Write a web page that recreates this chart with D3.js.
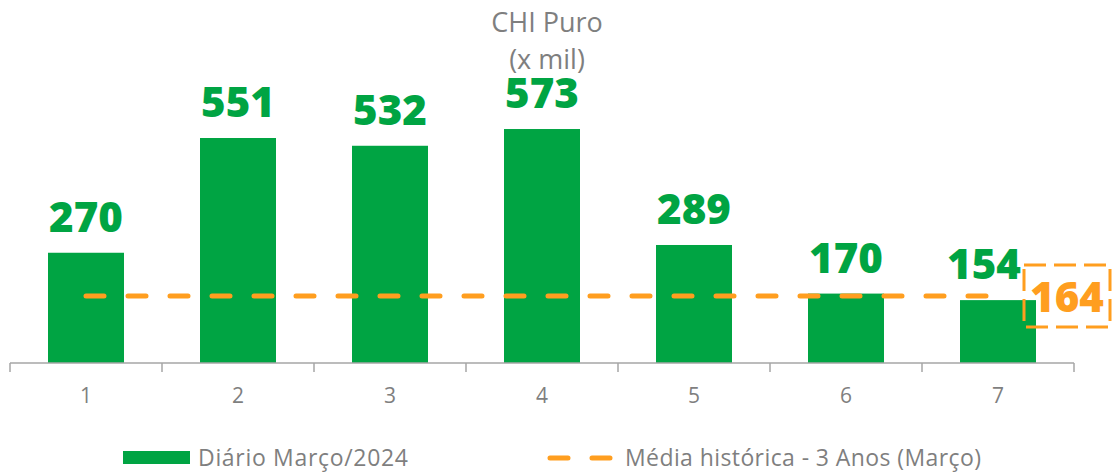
<!DOCTYPE html>
<html><head><meta charset="utf-8">
<script src="https://cdn.jsdelivr.net/npm/d3@7"></script>
<style>body{margin:0;background:#fff;}svg{display:block;font-family:"Open Sans",sans-serif;}</style>
</head><body><svg id="c" width="1113" height="473"></svg>
<script>
const categories = ["1","2","3","4","5","6","7"];
const values = [270,551,532,573,289,170,154];
const historicalAvg = 164;
const seriesNames = ["Diário Março/2024","Média histórica - 3 Anos (Março)"];
const title = ["CHI Puro","(x mil)"];

const green = "#00A443", orange = "#FF9E1F", gray = "#7f7f7f";
const svg = d3.select("#c");
const x = d3.scaleBand().domain(categories).range([10,1074]).paddingInner(0).paddingOuter(0);
const y = d3.scaleLinear().domain([0,600]).range([363,118]);

svg.append("g").selectAll("text").data(title).join("text")
  .attr("x",547).attr("y",(d,i)=>32+i*37).attr("text-anchor","middle")
  .attr("font-size",27).attr("fill",gray).text(d=>d);

const bw = x.bandwidth()*0.5;
svg.append("g").selectAll("rect").data(values).join("rect")
  .attr("x",(d,i)=>x(categories[i])+(x.bandwidth()-bw)/2)
  .attr("width",bw).attr("y",d=>y(d)).attr("height",d=>y(0)-y(d))
  .attr("fill",green);

svg.append("g").selectAll("text").data(values).join("text")
  .attr("x",(d,i)=>x(categories[i])+x.bandwidth()/2 - (i===values.length-1?14:0))
  .attr("y",d=>y(d)-21).attr("text-anchor","middle")
  .attr("font-size",42).attr("font-weight",800).attr("fill",green).text(d=>d);

// axis
const ax = svg.append("g").attr("transform","translate(0,363)");
ax.append("line").attr("x1",10).attr("x2",1074).attr("stroke","#a6a6a6").attr("stroke-width",1.5);
const bounds = categories.map(c=>x(c)).concat([x.range()[1]]);
ax.selectAll("line.t").data(bounds).join("line").attr("class","t")
  .attr("x1",d=>d).attr("x2",d=>d).attr("y1",0).attr("y2",9).attr("stroke","#a6a6a6").attr("stroke-width",1.5);
ax.selectAll("text").data(categories).join("text")
  .attr("x",d=>x(d)+x.bandwidth()/2).attr("y",40).attr("text-anchor","middle")
  .attr("font-size",21).attr("fill",gray).text(d=>d);

// average line
const x0 = x(categories[0])+x.bandwidth()/2, x1 = x(categories[categories.length-1])+x.bandwidth()/2-8;
svg.append("line").attr("x1",x0).attr("x2",x1).attr("y1",y(historicalAvg)).attr("y2",y(historicalAvg))
  .attr("stroke",orange).attr("stroke-width",5).attr("stroke-linecap","round").attr("stroke-dasharray","18,24");

// avg label box
svg.append("rect").attr("x",1024).attr("y",265).attr("width",86).attr("height",62)
  .attr("fill","none").attr("stroke",orange).attr("stroke-width",3).attr("stroke-dasharray","22,8");
svg.append("text").attr("x",1067).attr("y",y(historicalAvg)+16).attr("text-anchor","middle")
  .attr("font-size",42).attr("font-weight",800).attr("fill",orange).text(historicalAvg);

// legend
const lg = svg.append("g");
lg.append("rect").attr("x",123).attr("y",451).attr("width",67).attr("height",13).attr("fill",green);
lg.append("text").attr("x",198).attr("y",466).attr("font-size",23).attr("fill",gray).attr("textLength",210).text(seriesNames[0]);
lg.append("line").attr("x1",550).attr("x2",612).attr("y1",458).attr("y2",458)
  .attr("stroke",orange).attr("stroke-width",5).attr("stroke-linecap","round").attr("stroke-dasharray","18,24");
lg.append("text").attr("x",625).attr("y",466).attr("font-size",23).attr("fill",gray).attr("textLength",356).text(seriesNames[1]);
</script></body></html>
